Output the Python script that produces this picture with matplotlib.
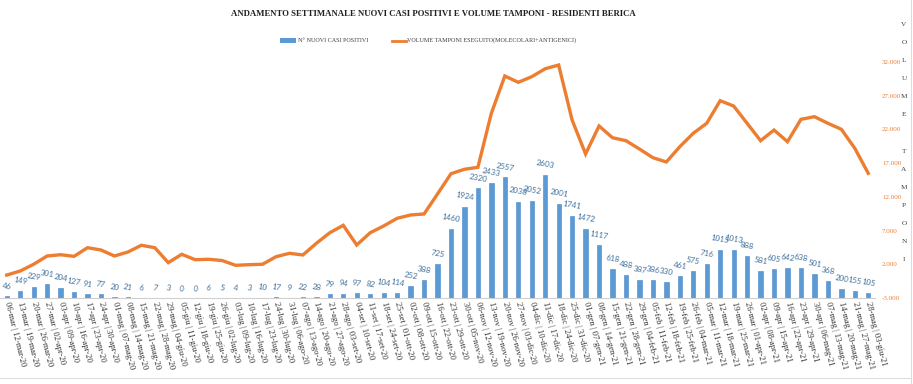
import numpy as np
import matplotlib.pyplot as plt
from matplotlib.patches import Rectangle
from matplotlib.lines import Line2D

# settimane (venerdi -> giovedi)
week_start = ("06-mar 13-mar 20-mar 27-mar 03-apr 10-apr 17-apr 24-apr 01-mag 08-mag "
              "15-mag 22-mag 29-mag 05-giu 12-giu 19-giu 26-giu 03-lug 10-lug 17-lug "
              "24-lug 31-lug 07-ago 14-ago 21-ago 28-ago 04-set 11-set 18-set 25-set "
              "02-ott 09-ott 16-ott 23-ott 30-ott 06-nov 13-nov 20-nov 27-nov 04-dic "
              "11-dic 18-dic 25-dic 01-gen 08-gen 15-gen 22-gen 29-gen 05-feb 12-feb "
              "19-feb 26-feb 05-mar 12-mar 19-mar 26-mar 02-apr 09-apr 16-apr 23-apr "
              "30-apr 07-mag 14-mag 21-mag 28-mag").split()
week_end = ("12-mar-20 19-mar-20 26-mar-20 02-apr-20 09-apr-20 16-apr-20 23-apr-20 30-apr-20 "
            "07-mag-20 14-mag-20 21-mag-20 28-mag-20 04-giu-20 11-giu-20 18-giu-20 25-giu-20 "
            "02-lug-20 09-lug-20 16-lug-20 23-lug-20 30-lug-20 06-ago-20 13-ago-20 20-ago-20 "
            "27-ago-20 03-set-20 10-set-20 17-set-20 24-set-20 01-ott-20 08-ott-20 15-ott-20 "
            "22-ott-20 29-ott-20 05-nov-20 12-nov-20 19-nov-20 26-nov-20 03-dic-20 10-dic-20 "
            "17-dic-20 24-dic-20 31-dic-20 07-gen-21 14-gen-21 21-gen-21 28-gen-21 04-feb-21 "
            "11-feb-21 18-feb-21 25-feb-21 04-mar-21 11-mar-21 18-mar-21 25-mar-21 01-apr-21 "
            "08-apr-21 15-apr-21 22-apr-21 29-apr-21 06-mag-21 13-mag-21 20-mag-21 27-mag-21 "
            "03-giu-21").split()

nuovi_casi = [46, 149, 229, 301, 204, 127, 91, 77, 20, 21, 6, 7, 3, 0, 0, 6, 5,
              4, 3, 10, 17, 9, 22, 28, 79, 94, 97, 82, 104, 114, 252, 388, 725,
              1460, 1924, 2320, 2433, 2557, 2038, 2052, 2603, 2001, 1741, 1472, 1117,
              618, 488, 387, 386, 330, 461, 575, 716, 1015, 1013, 888, 581, 605, 642,
              638, 501, 368, 200, 155, 105]

tamponi = [400, 1000, 2000, 3230, 3420, 3180, 4460, 4120, 3230, 3820, 4820, 4460,
           2240, 3480, 2680, 2740, 2560, 1850, 1940, 2000, 3120, 3630, 3380, 5110,
           6680, 7780, 4860, 6680, 7680, 8820, 9310, 9460, 12420, 15430, 16090, 16380,
           24390, 29920, 28990, 29820, 31000, 31550, 23400, 18360, 22510, 20770, 20330,
           19100, 17810, 17170, 19440, 21430, 22910, 26260, 25470, 22910, 20330, 21910,
           20180, 23500, 23890, 22910, 22020, 19200, 15490]

tamponi_ticks = [-3000, 2000, 7000, 12000, 17000, 22000, 27000, 32000]

labels = [s + " | " + e for s, e in zip(week_start, week_end)]
x = np.arange(len(labels))

W, H = 913, 384
fig = plt.figure(figsize=(W / 100, H / 100), dpi=100)
ax = fig.add_axes([0, 1 - 298 / H, 875 / W, 236 / H])
ax2 = ax.twinx()

bars = ax.bar(x, nuovi_casi, width=0.32, color='#5b9bd5', edgecolor='#4a86c8', linewidth=0.4)
ax.bar_label(bars, labels=[str(v) for v in nuovi_casi], padding=4, rotation=-10,
             fontsize=5.8, color='#41719c', family='Lato')
ax.set_ylim(0, 5000)
ax.set_xlim(-0.5, len(x) - 0.5)
ax.set_yticks([])
for s in ['top', 'left', 'right']:
    ax.spines[s].set_visible(False)
ax.spines['bottom'].set_color('#d0d0d0')
ax.set_xticks(x)
ax.set_xticklabels(labels, rotation=-76, rotation_mode='anchor', ha='left', va='center',
                   fontsize=6.1, family='Liberation Serif', color='#303030')
ax.tick_params(axis='x', length=0, pad=3)

ax2.plot(x, tamponi, color='#ed7d31', linewidth=2.4, solid_joinstyle='miter')
ax2.set_ylim(-3000, 32000)
ax2.set_yticks(tamponi_ticks)
ax2.set_yticklabels([f"{v:,}".replace(",", ".") for v in tamponi_ticks],
                    fontsize=5, family='Liberation Serif', color='#ed7d31')
ax2.tick_params(axis='y', length=0, pad=5)
for s in ['top', 'left', 'right', 'bottom']:
    ax2.spines[s].set_visible(False)

# titolo e legenda
fig.text(433 / W, 1 - 14 / H, "ANDAMENTO SETTIMANALE NUOVI CASI POSITIVI E VOLUME TAMPONI - RESIDENTI BERICA",
         ha='center', va='center', fontsize=6.3, fontweight='bold', family='Liberation Serif', color='#202020')
fig.add_artist(Rectangle((280 / W, 1 - 43 / H), 16 / W, 5 / H, transform=fig.transFigure,
                         facecolor='#5b9bd5', edgecolor='none'))
fig.text(298 / W, 1 - 40 / H, "N° NUOVI CASI POSITIVI", ha='left', va='center',
         fontsize=4.4, family='Liberation Serif', color='#404040')
fig.add_artist(Line2D([392 / W, 406 / W], [1 - 41 / H, 1 - 41 / H], transform=fig.transFigure,
                      color='#ed7d31', linewidth=2))
fig.text(407 / W, 1 - 40 / H, "VOLUME TAMPONI ESEGUITO(MOLECOLARI+ANTIGENICI)", ha='left', va='center',
         fontsize=4.4, family='Liberation Serif', color='#404040')

# titolo asse destro, lettere in colonna
for i, ch in enumerate("VOLUME TAMPONI"):
    if ch != " ":
        fig.text(904 / W, 1 - (24 + 18.15 * i) / H, ch, ha='center', va='center',
                 fontsize=5.2, family='Liberation Serif', color='#404040')

# cornice
fig.add_artist(Line2D([0, 911 / W], [1 - 378 / H, 1 - 378 / H], transform=fig.transFigure,
                      color='#dcdcdc', linewidth=0.8))
fig.add_artist(Line2D([911 / W, 911 / W], [0, 1], transform=fig.transFigure,
                      color='#dcdcdc', linewidth=0.8))

fig.savefig("out.png", dpi=100)
